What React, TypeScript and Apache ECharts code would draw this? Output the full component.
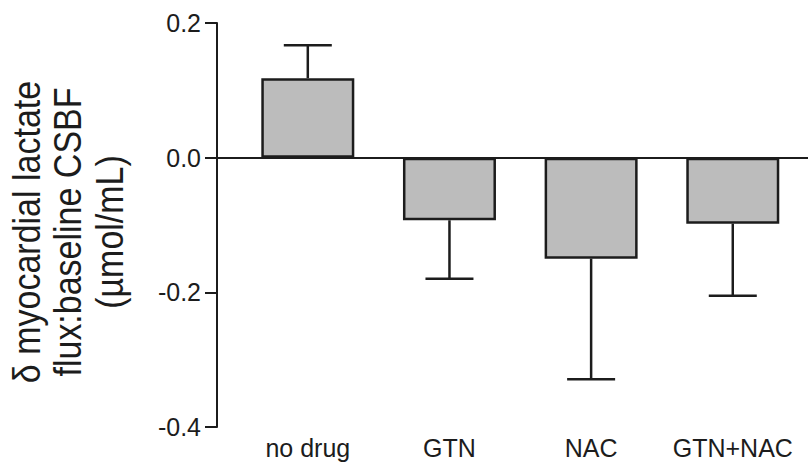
import React, { useEffect, useRef } from "react";
import * as echarts from "echarts";

// Treatment groups, mean change and SEM (µmol/mL)
const categories = ["no drug", "GTN", "NAC", "GTN+NAC"];
const means = [0.118, -0.093, -0.15, -0.098];
const sems = [0.049, 0.087, 0.179, 0.107];
const yTicks = { min: -0.4, max: 0.2, interval: 0.2 };
const titleLines = ["δ myocardial lactate", "flux:baseline CSBF", "(µmol/mL)"];

const INK = "#1c1c1c";
const FONT = "'Liberation Sans', Arial, Helvetica, sans-serif";

export default function App() {
  const ref = useRef<HTMLDivElement>(null);

  useEffect(() => {
    if (!ref.current) return;
    const chart = echarts.init(ref.current, undefined, { renderer: "svg" });

    const positions = categories.map((_, i) => i + 1);
    const barData = positions.map((x, i) => [x, means[i]]);
    const errData = positions.map((x, i) => [x, means[i], sems[i]]);

    chart.setOption({
      animation: false,
      backgroundColor: "#ffffff",
      grid: { left: 217, right: 0, top: 23, bottom: 36, containLabel: false },
      xAxis: {
        type: "value",
        min: 0.359,
        max: 4.531,
        axisLine: { show: false },
        axisTick: { show: false },
        splitLine: { show: false },
        axisLabel: {
          customValues: positions,
          margin: 8,
          color: INK,
          fontFamily: FONT,
          fontSize: 25,
          formatter: (v: number) => categories[Math.round(v) - 1] ?? "",
        },
      },
      yAxis: {
        type: "value",
        min: yTicks.min,
        max: yTicks.max,
        interval: yTicks.interval,
        axisLine: { show: true, lineStyle: { color: INK, width: 2 } },
        axisTick: { show: true, inside: false, length: 12, lineStyle: { color: INK, width: 2 } },
        splitLine: { show: false },
        axisLabel: {
          margin: 16,
          color: INK,
          fontFamily: FONT,
          fontSize: 25,
          formatter: (v: number) => v.toFixed(1),
        },
      },
      graphic: [
        {
          type: "group",
          x: 68,
          y: 232,
          scaleX: 1.15,
          children: [
            {
              type: "text",
              rotation: Math.PI / 2,
              style: {
                text: titleLines.join("\n"),
                fill: INK,
                font: `34px ${FONT}`,
                lineHeight: 36,
                align: "center",
                verticalAlign: "middle",
              },
            },
          ],
        },
      ],
      series: [
        {
          type: "bar",
          data: barData,
          barWidth: 93,
          itemStyle: { color: "#bcbcbc", borderColor: INK, borderWidth: 2.5 },
          markLine: {
            silent: true,
            symbol: "none",
            label: { show: false },
            lineStyle: { color: INK, width: 2, type: "solid" },
            data: [{ yAxis: 0 }],
          },
          z: 2,
        },
        {
          type: "custom",
          data: errData,
          z: 3,
          renderItem: (_params: any, api: any) => {
            const x = api.value(0);
            const m = api.value(1);
            const e = api.value(2);
            const end = m >= 0 ? m + e : m - e;
            const p0 = api.coord([x, m]);
            const p1 = api.coord([x, end]);
            const half = 24;
            const style = { stroke: INK, lineWidth: 2.5 };
            return {
              type: "group",
              children: [
                { type: "line", shape: { x1: p0[0], y1: p0[1], x2: p1[0], y2: p1[1] }, style },
                { type: "line", shape: { x1: p1[0] - half, y1: p1[1], x2: p1[0] + half, y2: p1[1] }, style },
              ],
            };
          },
        },
      ],
    });

    return () => chart.dispose();
  }, []);

  return (
    <div
      ref={ref}
      style={{ position: "absolute", left: 0, top: 0, width: 808, height: 463, background: "#fff" }}
    />
  );
}
